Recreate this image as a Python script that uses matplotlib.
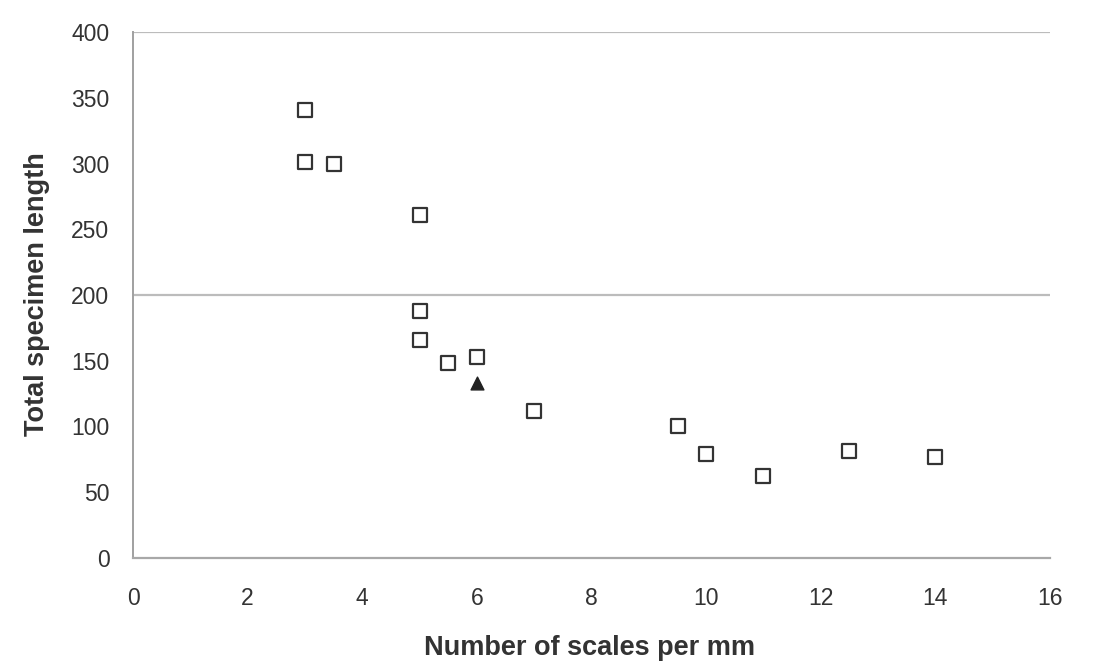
import matplotlib
matplotlib.use("Agg")
import matplotlib.pyplot as plt

plt.rcParams['font.family'] = ['Liberation Sans', 'DejaVu Sans']

# Scale density vs. specimen length
scales_per_mm = [3, 3, 3.5, 5, 5, 5, 5.5, 6, 7, 9.5, 10, 11, 12.5, 14]
total_length = [341, 301, 300, 261, 188, 166, 148, 153, 112, 100, 79, 62, 81, 77]

# Single highlighted specimen
special_x = [6]
special_y = [133]

x_ticks = [0, 2, 4, 6, 8, 10, 12, 14, 16]
y_ticks = [0, 50, 100, 150, 200, 250, 300, 350, 400]

fig = plt.figure(figsize=(10.93, 6.63), dpi=100)
ax = fig.add_axes([0.1217, 0.1584, 0.839, 0.7933])

for yv in (200, 400):
    ax.axhline(yv, color='#bcbcbc', lw=1.6, zorder=1)

ax.scatter(scales_per_mm, total_length, marker='s', s=110, facecolors='white',
           edgecolors='#333333', linewidths=1.6, zorder=3)
ax.scatter(special_x, special_y, marker='^', s=85, color='#222222', zorder=3)

ax.set_xlim(0, 16)
ax.set_ylim(0, 400)
ax.set_xticks(x_ticks)
ax.set_yticks(y_ticks)
ax.tick_params(axis='both', length=0, labelsize=16.5, colors='#333333')
ax.tick_params(axis='y', pad=17)
ax.tick_params(axis='x', pad=21)

for side in ('top', 'right'):
    ax.spines[side].set_visible(False)
ax.spines['left'].set_color('#a0a0a0')
ax.spines['bottom'].set_color('#a8a8a8')
ax.spines['left'].set_linewidth(1.4)
ax.spines['bottom'].set_linewidth(1.6)

ax.set_xlabel('Number of scales per mm', fontsize=19.5, fontweight='bold',
              color='#333333')
ax.set_ylabel('Total specimen length', fontsize=19.5, fontweight='bold',
              color='#333333')
ax.xaxis.set_label_coords(0.498, -0.172)
ax.xaxis.label.set_va('center')
ax.yaxis.set_label_coords(-0.105, 0.502)
ax.yaxis.label.set_va('center')

fig.savefig('out.png', dpi=100)
